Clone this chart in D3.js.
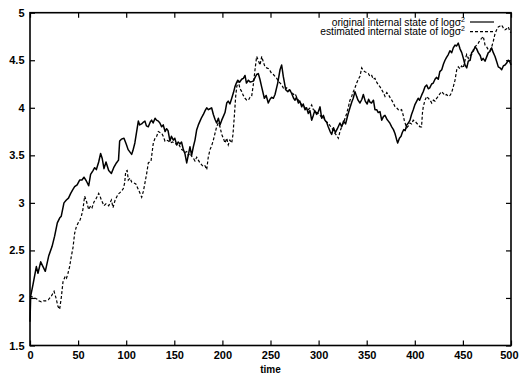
<!DOCTYPE html>
<html>
<head>
<meta charset="utf-8">
<script src="https://cdn.jsdelivr.net/npm/d3@7"></script>
<style>
  html, body { margin: 0; padding: 0; background: #fff; }
  svg { display: block; }
  text { font-family: "Liberation Sans", Arial, Helvetica, sans-serif; fill: #000; }
</style>
</head>
<body>
<svg id="chart" width="519" height="374"></svg>
<script>
// ---- data ----
const xTicks = [0, 50, 100, 150, 200, 250, 300, 350, 400, 450, 500];
const yTicks = [1.5, 2, 2.5, 3, 3.5, 4, 4.5, 5];
const yTickLabels = ["1.5", "2", "2.5", "3", "3.5", "4", "4.5", "5"];
const xLabel = "time";
const seriesNames = ["original internal state of logσ", "estimated internal state of logσ"];

const timeOriginal = [0,0.7,3.1,6.6,8.3,11.1,13.5,15.9,19.4,22.9,25.6,28.4,30.8,32.5,35.3,37.8,40,42.3,44.5,46.4,49,51.6,54,56.1,58.6,61,63,65.5,67.2,69,71.4,73.4,75,76.9,79,81.8,84.6,87,89.8,92,93.2,95,97.7,100,102,105.7,107,109,112.6,114,116,118,119.5,121,123,125,126.4,128,130,131.5,133.4,135,136.9,138.5,140.4,142,143.5,145.5,147,149,150.5,152.5,154,156,157.5,159.4,161,162.9,164.5,166.3,168,169.8,171.5,173.3,175,176.7,178.5,180.2,182,183.7,185.5,187.1,188.8,190.6,192.3,194,195.8,197.5,199.3,201,202.7,204.5,206,207.8,209.7,211.5,213,214.5,216,218,220,221.8,223.5,225,227,229,232,234,235.6,237.3,239,240.8,243.6,245.5,247.7,249.5,251.2,253,254.7,257.5,259.9,261.6,263.3,265.8,268,270,272,274,275.5,277,279,280.5,282.4,284,285.9,287.5,289.3,291,292.8,294.5,296,298,299.8,301.5,303.2,305,306.6,308.3,310,312,313.6,315.5,317.5,319.5,322.2,324,326,328,330.5,332.6,334.5,336,337.8,339.5,341,343,345,346.5,348.5,350.5,352,353.4,355,357,358.6,360.4,362,363.8,365.6,367.5,369,371,372.5,374,376,377.8,379.4,381,382.2,384,385.7,387,388.5,390,391.6,393.3,395,396.6,398.4,400,402,403.5,405,407,408.8,410.6,412.4,414,415.5,417.5,419.2,421,422.5,424.4,426,428,429.8,431.4,433,434.8,436.5,438.4,440,441.8,443.5,445.2,447,448.8,450.5,452.2,454,455.6,457.5,459.1,461,462.6,464.3,466,468,469.5,471,473,474.5,476.4,478,479.9,481.6,483.4,485,486.8,488.5,490.3,492,493.8,495.5,497.2,499,500];
const valueOriginal = [1.75,2.02,2.14,2.33,2.26,2.38,2.33,2.28,2.44,2.54,2.65,2.79,2.84,2.86,3.00,3.03,3.05,3.10,3.14,3.17,3.19,3.24,3.24,3.27,3.23,3.18,3.30,3.34,3.37,3.35,3.43,3.52,3.47,3.36,3.43,3.34,3.31,3.37,3.42,3.45,3.65,3.67,3.68,3.62,3.56,3.51,3.55,3.63,3.86,3.82,3.83,3.85,3.86,3.81,3.80,3.85,3.87,3.84,3.89,3.87,3.86,3.84,3.80,3.82,3.75,3.78,3.76,3.65,3.70,3.66,3.68,3.61,3.64,3.62,3.64,3.56,3.52,3.42,3.50,3.59,3.50,3.59,3.66,3.77,3.82,3.86,3.90,3.93,3.97,4.00,3.98,3.99,4.00,3.93,3.88,3.84,3.89,3.82,3.87,3.91,3.95,4.05,4.07,4.04,4.10,4.16,4.22,4.26,4.29,4.27,4.30,4.31,4.34,4.26,4.29,4.27,4.28,4.32,4.35,4.36,4.30,4.22,4.10,4.13,4.05,4.09,4.11,4.10,4.14,4.26,4.40,4.45,4.33,4.19,4.17,4.19,4.15,4.10,4.08,4.11,4.05,4.07,4.01,4.04,3.98,4.00,3.94,3.97,3.87,3.92,3.97,3.93,3.96,4.01,3.89,3.92,3.87,3.85,3.80,3.75,3.72,3.79,3.74,3.78,3.84,3.80,3.86,3.83,3.93,4.00,4.06,4.10,4.17,4.12,4.08,4.05,4.09,4.14,4.07,4.04,4.09,4.06,4.05,4.08,3.98,3.98,3.95,3.96,3.87,3.91,3.92,3.88,3.86,3.84,3.80,3.77,3.73,3.67,3.63,3.68,3.70,3.74,3.77,3.76,3.82,3.84,3.87,3.93,3.98,4.03,4.07,4.10,4.08,4.13,4.17,4.22,4.24,4.20,4.21,4.25,4.26,4.30,4.32,4.30,4.38,4.40,4.46,4.50,4.53,4.56,4.60,4.58,4.63,4.66,4.65,4.68,4.62,4.58,4.52,4.45,4.42,4.49,4.50,4.58,4.60,4.64,4.62,4.58,4.55,4.50,4.52,4.49,4.53,4.58,4.59,4.63,4.58,4.54,4.49,4.43,4.42,4.40,4.44,4.45,4.47,4.50,4.48,4.45];

const timeEstimated = [0,2.5,4.9,7,9,11.8,14,16.5,19,22.2,25,27,29.1,30.8,32.6,34.3,36.7,38,39.5,41.2,43,44.7,46.4,48.2,50.6,52,53.4,55,56.8,58.6,61,63,64.5,66.5,68.5,71.4,72.8,74.2,76.9,79,81.8,84.6,86.3,88.5,91.5,94.9,97,98.4,99.5,101,102.2,104,105.7,108,110,112.6,114.4,116.1,117.8,119.5,121.3,123,125.8,128.2,130,131.7,133.4,135.1,137,138.5,140.3,142,144,146,148,150.7,152.5,154.5,156,157.7,159.4,161,162.9,164.5,166.3,168.1,169.8,171.5,173.3,175,176.7,178.5,180.2,181.9,183.7,185.3,187.1,188.8,190.6,192.3,194,195.7,197.5,199.3,201,202.7,204.5,206.1,207.8,209.7,211,212.4,213.8,214.9,216.5,218.3,220.1,221.7,223.5,225.3,227,228.7,230.4,232.1,233.9,235.6,237.3,239.1,240.9,242.6,244.3,246,248,249.5,251.2,253,254.7,256.5,258.1,260,261.6,263.3,265.1,266.8,268.5,270.2,272,273.8,275.5,277.2,279,280.7,282.4,284,285.9,287.6,289.3,291,292.8,294.5,296.2,298,299.7,301.5,303.2,305,306.7,308.4,310.1,312,313.6,315.3,317,318.8,320.5,322.2,324,325.7,327.5,329.2,331,332.6,334.4,336.1,337.8,339.6,341.3,343,344.8,346.5,348.2,350,351.7,353.4,355.2,356.9,358.6,360.4,362.1,363.9,365.6,367.3,369,370.8,372.5,374.2,376,377.7,379.4,381.2,382.9,384.6,386.3,388,389,390.5,391.6,393.3,395,396.7,398.4,400.1,401.8,403.6,405.4,407,408,408.8,410.6,412.4,414.1,415.9,417.6,419.3,421,422.7,424.4,426.2,428,429.7,431.4,433.1,434.8,436.6,438.3,440,441.8,443.6,445.2,447,448.7,450.4,452.2,453.9,455.6,457.4,459.1,460.8,462.6,464.3,466,467.7,469.5,471.2,473,474.7,476.4,478.1,479.9,481.6,483.4,485.1,486.8,488.6,490.3,492,493.8,495.5,497.2,499,500];
const valueEstimated = [2.02,2.01,2.00,1.99,1.97,1.96,1.97,1.97,1.98,2.02,2.07,2.00,1.91,1.88,2.01,2.17,2.23,2.21,2.26,2.33,2.44,2.53,2.68,2.75,2.80,2.82,2.86,2.93,3.07,3.02,2.93,2.97,2.95,3.01,3.04,3.10,3.07,3.03,2.97,2.99,2.97,3.03,2.95,3.03,3.09,3.12,3.15,3.21,3.33,3.34,3.24,3.26,3.22,3.21,3.20,3.14,3.10,3.06,3.12,3.21,3.31,3.42,3.44,3.63,3.68,3.70,3.75,3.74,3.73,3.70,3.65,3.66,3.65,3.63,3.64,3.63,3.61,3.62,3.59,3.56,3.55,3.53,3.54,3.50,3.52,3.49,3.47,3.44,3.48,3.45,3.42,3.40,3.38,3.39,3.35,3.48,3.56,3.60,3.66,3.73,3.80,3.84,3.80,3.72,3.68,3.63,3.68,3.61,3.66,3.63,3.72,3.91,4.12,4.22,4.28,4.20,4.17,4.13,4.10,4.08,4.08,4.11,4.12,4.24,4.40,4.54,4.50,4.45,4.54,4.48,4.43,4.42,4.41,4.39,4.36,4.35,4.33,4.31,4.28,4.26,4.24,4.21,4.19,4.21,4.20,4.18,4.17,4.14,4.15,4.11,4.08,4.06,4.03,4.02,4.00,3.99,3.98,4.00,4.03,3.98,3.97,3.95,3.94,3.92,3.90,3.91,3.86,3.85,3.84,3.81,3.79,3.76,3.73,3.71,3.68,3.75,3.80,3.84,3.89,3.94,4.01,4.08,4.12,4.17,4.21,4.26,4.30,4.33,4.42,4.39,4.38,4.37,4.36,4.33,4.34,4.30,4.31,4.27,4.24,4.22,4.19,4.16,4.12,4.16,4.14,4.11,4.08,4.05,4.01,4.00,3.98,3.97,3.98,3.92,3.87,3.82,3.79,3.81,3.84,3.83,3.87,3.86,3.84,3.82,3.80,3.80,3.95,4.01,4.08,4.12,4.10,4.08,4.05,4.08,4.07,4.10,4.12,4.15,4.17,4.15,4.13,4.14,4.12,4.13,4.16,4.22,4.29,4.40,4.43,4.41,4.44,4.42,4.50,4.56,4.52,4.55,4.56,4.61,4.64,4.66,4.68,4.71,4.73,4.75,4.66,4.64,4.61,4.60,4.64,4.70,4.78,4.82,4.85,4.86,4.87,4.84,4.82,4.83,4.85,4.80,4.79];

// ---- layout ----
const svg = d3.select("#chart");
const L = 30, R = 511, T = 12.7, B = 345.5;
const x = d3.scaleLinear().domain([0, 500]).range([L, R]);
const y = d3.scaleLinear().domain([1.5, 5]).range([B, T]);
const tickLen = 5;

const g = svg.append("g");

// ticks on all four sides (pointing inward)
g.append("g").attr("transform", `translate(0,${B})`)
  .call(d3.axisBottom(x).tickValues(xTicks).tickSize(-tickLen).tickPadding(6).tickFormat(d3.format("d")))
  .call(a => a.select(".domain").remove())
  .call(a => a.selectAll("text").attr("font-size", 11).attr("font-weight", "bold").attr("font-family", "Liberation Sans, Arial, sans-serif").attr("fill", "#000"))
  .call(a => a.selectAll("text").filter(d => d === 500).attr("text-anchor", "end").attr("dx", 7))
  .call(a => a.selectAll("line").attr("stroke", "#000").attr("stroke-width", 1.2));
g.append("g").attr("transform", `translate(0,${T})`)
  .call(d3.axisTop(x).tickValues(xTicks).tickSize(-tickLen).tickFormat(""))
  .call(a => a.select(".domain").remove())
  .call(a => a.selectAll("line").attr("stroke", "#000").attr("stroke-width", 1.2));
g.append("g").attr("transform", `translate(${L},0)`)
  .call(d3.axisLeft(y).tickValues(yTicks).tickSize(-tickLen).tickPadding(5.5).tickFormat((d, i) => yTickLabels[i]))
  .call(a => a.select(".domain").remove())
  .call(a => a.selectAll("text").attr("font-size", 11).attr("font-weight", "bold").attr("font-family", "Liberation Sans, Arial, sans-serif").attr("fill", "#000"))
  .call(a => a.selectAll("line").attr("stroke", "#000").attr("stroke-width", 1.2));
g.append("g").attr("transform", `translate(${R},0)`)
  .call(d3.axisRight(y).tickValues(yTicks).tickSize(-tickLen).tickFormat(""))
  .call(a => a.select(".domain").remove())
  .call(a => a.selectAll("line").attr("stroke", "#000").attr("stroke-width", 1.2));

// x label
g.append("text").attr("x", (L + R) / 2).attr("y", 372.5).attr("text-anchor", "middle")
  .attr("font-size", 10).attr("font-weight", "bold").text(xLabel);

// series
const line = d3.line().x(d => x(d[0])).y(d => y(d[1]));
const dataOrig = timeOriginal.map((t, i) => [t, valueOriginal[i]]);
const dataEst = timeEstimated.map((t, i) => [t, valueEstimated[i]]);

g.append("path").datum(dataEst).attr("d", line)
  .attr("fill", "none").attr("stroke", "#000").attr("stroke-width", 1.2)
  .attr("stroke-dasharray", "3,2");
g.append("path").datum(dataOrig).attr("d", line)
  .attr("fill", "none").attr("stroke", "#000").attr("stroke-width", 1.5)
  .attr("stroke-linejoin", "round");

// border
g.append("rect").attr("x", L).attr("y", T).attr("width", R - L).attr("height", B - T)
  .attr("fill", "none").attr("stroke", "#000").attr("stroke-width", 1.6);

// legend
const legendRows = [
  { name: seriesNames[0], dash: null, y: 22 },
  { name: seriesNames[1], dash: "3,2", y: 31.7 }
];
legendRows.forEach(r => {
  const t = g.append("text").attr("x", 465).attr("y", r.y + 3.6).attr("text-anchor", "end")
    .attr("font-size", 10.3);
  t.append("tspan").text(r.name);
  t.append("tspan").attr("dy", -4).attr("font-size", 7).text("2");
  g.append("line").attr("x1", 470).attr("x2", 494).attr("y1", r.y).attr("y2", r.y)
    .attr("stroke", "#000").attr("stroke-width", 1.2)
    .attr("stroke-dasharray", r.dash);
});
</script>
</body>
</html>
